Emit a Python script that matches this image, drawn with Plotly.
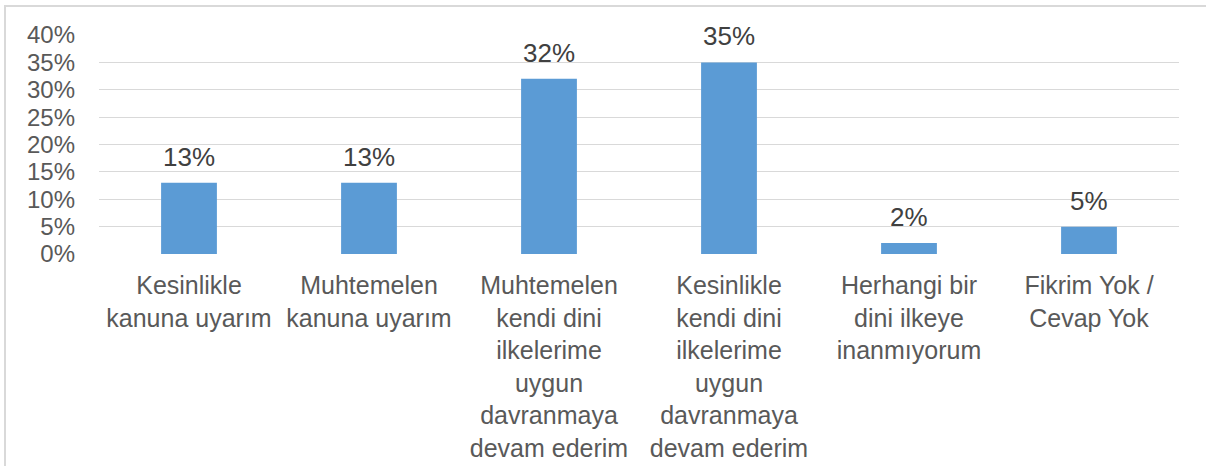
import plotly.graph_objects as go

categories = [
    "Kesinlikle<br>kanuna uyarım",
    "Muhtemelen<br>kanuna uyarım",
    "Muhtemelen<br>kendi dini<br>ilkelerime<br>uygun<br>davranmaya<br>devam ederim",
    "Kesinlikle<br>kendi dini<br>ilkelerime<br>uygun<br>davranmaya<br>devam ederim",
    "Herhangi bir<br>dini ilkeye<br>inanmıyorum",
    "Fikrim Yok /<br>Cevap Yok",
]
values = [0.13, 0.13, 0.32, 0.35, 0.02, 0.05]
labels = ["13%", "13%", "32%", "35%", "2%", "5%"]

W, H = 1206, 466
ml, mr, mt, mb = 99, 27, 35, 212

fig = go.Figure()
fig.add_trace(go.Bar(x=categories, y=values, marker_color="#5B9BD5",
                     marker_line_width=0, width=0.31))

# data labels above the bars
for c, v, t in zip(categories, values, labels):
    fig.add_annotation(x=c, y=v, text=t, showarrow=False, yanchor="bottom",
                       yshift=9, font=dict(size=26, color="#404040"))

# light frame around the chart
pw, ph = W - ml - mr, H - mt - mb
fig.add_shape(type="rect", xref="paper", yref="paper",
              x0=(5 - ml) / pw, x1=(W + 5 - ml) / pw,
              y0=-(H + 5 - mt) / ph, y1=1 + (mt - 6) / ph,
              line=dict(color="#d9d9d9", width=2), fillcolor="rgba(0,0,0,0)")

fig.update_layout(
    width=W, height=H,
    margin=dict(l=ml, r=mr, t=mt, b=mb, autoexpand=False),
    paper_bgcolor="white", plot_bgcolor="white",
    font=dict(family="Liberation Sans, Arial, sans-serif", size=26, color="#595959"),
    showlegend=False,
    xaxis=dict(showline=False, ticks="", tickangle=0, tickfont=dict(size=25),
               ticklabelstandoff=14, automargin=False),
    yaxis=dict(range=[0, 0.40], dtick=0.05, tickformat=".0%", showgrid=True,
               gridcolor="#d9d9d9", gridwidth=1, zeroline=False, showline=False,
               tickfont=dict(size=24), ticklabelstandoff=23, automargin=False),
)

# page has default body margin; drop it so the figure sits at 0,0
fig.write_html("out.html", config={"displayModeBar": False},
               post_script="document.body.style.margin='0';")
